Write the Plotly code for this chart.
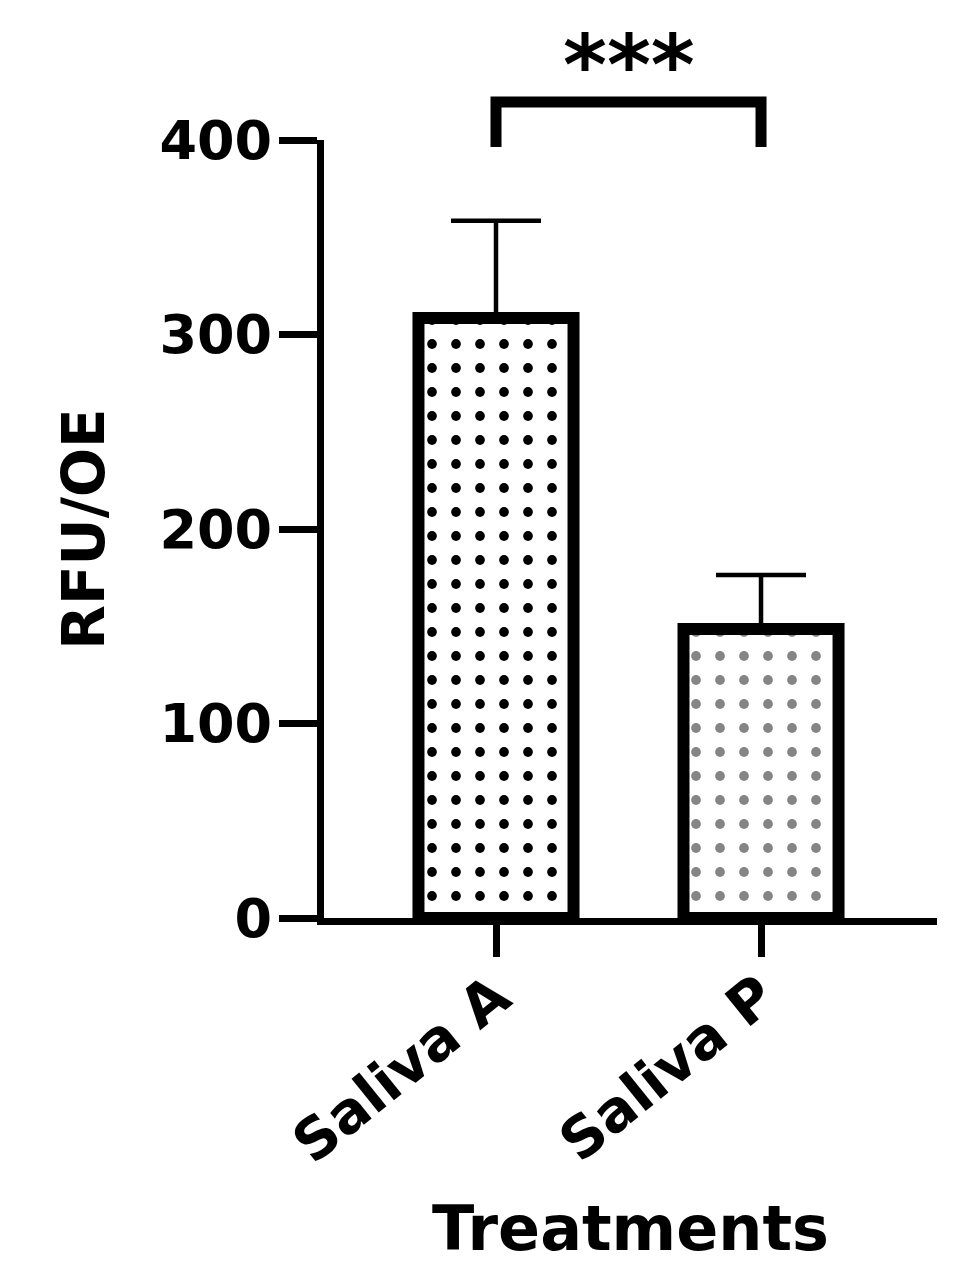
import plotly.graph_objects as go

categories = ["Saliva A", "Saliva P"]
means = [308.5, 148.6]
errors_up = [50.0, 27.7]
dot_colors = ["#000000", "#858585"]
y_ticks = [0, 100, 200, 300, 400]
significance = "***"
x_title = "Treatments"
y_title = "RFU/OE"

FONT = "DejaVu Sans"

fig = go.Figure()
for cat, m, e, dc in zip(categories, means, errors_up, dot_colors):
    fig.add_trace(go.Bar(
        x=[cat], y=[m],
        width=0.585,
        marker=dict(
            color="white",
            line=dict(color="black", width=12),
            pattern=dict(shape=".", fgcolor=dc, fgopacity=1, bgcolor="white",
                         size=24, solidity=0.13, fillmode="overlay"),
        ),
        error_y=dict(type="data", symmetric=False, array=[e], arrayminus=[0],
                     color="black", thickness=4.5, width=45),
        showlegend=False,
    ))

# significance bracket (x in category units, y in paper units above the plot)
fig.add_shape(type="path", xref="x", yref="paper",
              path="M 0,0.991 L 0,1.049 L 1,1.049 L 1,0.991",
              line=dict(color="black", width=11))
fig.add_annotation(x=0.5, xref="x", y=1.097, yref="paper", text=significance,
                   showarrow=False, yanchor="middle",
                   font=dict(family=FONT, size=84, color="black", weight="bold"))

fig.update_layout(
    width=975, height=1288,
    margin=dict(l=316, r=46, t=132, b=378),
    plot_bgcolor="white", paper_bgcolor="white",
    xaxis=dict(
        range=[-0.649, 1.664], automargin=False,
        showline=True, linecolor="black", linewidth=7,
        ticks="outside", ticklen=32, tickwidth=7, tickcolor="black",
        tickangle=-39, ticklabelstandoff=-16,
        tickfont=dict(family=FONT, size=57, color="black", weight="bold"),
        title=dict(text=x_title, standoff=34,
                   font=dict(family=FONT, size=62, color="black", weight="bold")),
        showgrid=False, zeroline=False,
    ),
    yaxis=dict(
        range=[0, 400], tickvals=y_ticks, automargin=False,
        showline=True, linecolor="black", linewidth=7,
        ticks="outside", ticklen=38, tickwidth=7, tickcolor="black",
        ticklabelstandoff=-4,
        tickfont=dict(family=FONT, size=54, color="black", weight="bold"),
        title=dict(text=y_title, standoff=39,
                   font=dict(family=FONT, size=58, color="black", weight="bold")),
        showgrid=False, zeroline=False,
    ),
)

fig.write_html("out.html")
